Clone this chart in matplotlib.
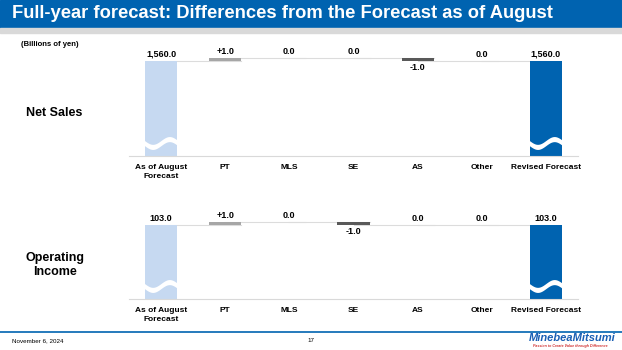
import matplotlib.pyplot as plt
import numpy as np
from matplotlib.patches import Rectangle

# data
categories = ["As of August\nForecast", "PT", "MLS", "SE", "AS", "Other", "Revised Forecast"]
sales_start = 1560.0
sales_diff = [1.0, 0.0, 0.0, -1.0, 0.0]
sales_end = 1560.0
op_start = 103.0
op_diff = [1.0, 0.0, -1.0, 0.0, 0.0]
op_end = 103.0

W, H = 622, 350
BLUE = '#0063b0'
LIGHT = '#c6d9f1'
UP = '#a6a6a6'
DOWN = '#595959'
plt.rcParams['font.family'] = ['Liberation Sans', 'DejaVu Sans']

fig = plt.figure(figsize=(W / 100, H / 100), dpi=100)


def px_axes(left, top, right, bottom):
    return fig.add_axes([left / W, 1 - bottom / H, (right - left) / W, (bottom - top) / H])


def fmt(v, sign=False):
    if sign and v > 0:
        return '+{:,.1f}'.format(v)
    return '{:,.1f}'.format(v)


def waterfall(ax, start, diffs, end, bar_px, unit_px=3.0):
    # bar_px = pixels from baseline up to the start value
    pos = ax.get_position()
    h_px = pos.height * H
    base = start - bar_px / unit_px
    ax.set_ylim(base, base + h_px / unit_px)
    n = len(categories)
    ax.set_xlim(-0.5, n - 0.5)
    w = 0.5

    ax.bar(0, start - base, bottom=base, width=w, color=LIGHT, zorder=2)
    ax.bar(n - 1, end - base, bottom=base, width=w, color=BLUE, zorder=2)
    ax.annotate(fmt(start), (0, start), xytext=(0, 1.5), textcoords='offset points',
                ha='center', va='bottom', fontsize=6.5, fontweight='bold')
    ax.annotate(fmt(end), (n - 1, end), xytext=(0, 1.5), textcoords='offset points',
                ha='center', va='bottom', fontsize=6.5, fontweight='bold')

    level = start
    for i, d in enumerate(diffs):
        x = i + 1
        new = level + d
        # connector line, runs across the zero steps too
        ax.plot([x - 1, x + w / 2], [level, level], color='#dcdcdc', lw=0.8, zorder=1)
        if d != 0:
            ax.bar(x, d, bottom=level, width=w, color=UP if d > 0 else DOWN, zorder=2)
        if d < 0:
            ax.annotate(fmt(d, True), (x, min(level, new)), xytext=(0, -1.5), textcoords='offset points',
                        ha='center', va='top', fontsize=6.5, fontweight='bold')
        else:
            ax.annotate(fmt(d, True), (x, max(level, new)), xytext=(0, 1.5), textcoords='offset points',
                        ha='center', va='bottom', fontsize=6.5, fontweight='bold')
        level = new
    ax.plot([n - 2, n - 1], [level, level], color='#dcdcdc', lw=0.8, zorder=1)

    # wavy break on the two totals
    for x in (0, n - 1):
        xs = np.linspace(x - w / 2 - 0.01, x + w / 2 + 0.01, 60)
        c = base + 13 / unit_px
        wave = c - 1.3 * np.sin(2 * np.pi * (xs - xs[0]) / (xs[-1] - xs[0]))
        ax.fill_between(xs, wave - 0.85, wave + 0.85, color='white', lw=0, zorder=3)

    ax.set_xticks(range(n))
    ax.set_xticklabels(categories, fontsize=6, fontweight='bold', linespacing=1.3)
    ax.tick_params(axis='x', length=0, pad=6)
    ax.set_yticks([])
    for s in ('top', 'left', 'right'):
        ax.spines[s].set_visible(False)
    ax.spines['bottom'].set_color('#d9d9d9')
    ax.spines['bottom'].set_linewidth(0.8)
    ax.patch.set_alpha(0)


ax1 = px_axes(129, 40, 578, 156)
waterfall(ax1, sales_start, sales_diff, sales_end, 95)
ax2 = px_axes(129, 205, 578, 299)
waterfall(ax2, op_start, op_diff, op_end, 74)

# header
fig.patches.append(Rectangle((0, 1 - 28 / H), 1, 28 / H, transform=fig.transFigure, color=BLUE, zorder=0))
fig.patches.append(Rectangle((0, 1 - 33 / H), 1, 5 / H, transform=fig.transFigure, color='#d9d9d9', zorder=0))
fig.text(12 / W, 1 - 14 / H, 'Full-year forecast: Differences from the Forecast as of August',
         color='white', fontsize=13.2, fontweight='bold', va='center', ha='left')
fig.text(21 / W, 1 - 44 / H, '(Billions of yen)', fontsize=5.5, fontweight='bold', va='center')

fig.text(54 / W, 1 - 113 / H, 'Net Sales', fontsize=9, fontweight='bold', va='center', ha='center')
fig.text(55 / W, 1 - 265 / H, 'Operating\nIncome', fontsize=9, fontweight='bold', va='center', ha='center',
         linespacing=1.25)

# footer
fig.add_artist(plt.Line2D([0, 1], [1 - 332 / H] * 2, color=BLUE, lw=1.2, transform=fig.transFigure))
fig.text(12 / W, 1 - 341 / H, 'November 6, 2024', fontsize=4.5, va='center')
fig.text(311 / W, 1 - 341 / H, '17', fontsize=4.5, va='center', ha='center')
fig.text(572 / W, 1 - 338 / H, 'MinebeaMitsumi', fontsize=8, fontweight='bold', style='italic',
         color='#1a5fb4', va='center', ha='center')
fig.text(570 / W, 1 - 345.5 / H, 'Passion to Create Value through Difference', fontsize=2.6,
         fontweight='bold', style='italic', color='#d03030', va='center', ha='center')

fig.savefig('out.png', dpi=100)
